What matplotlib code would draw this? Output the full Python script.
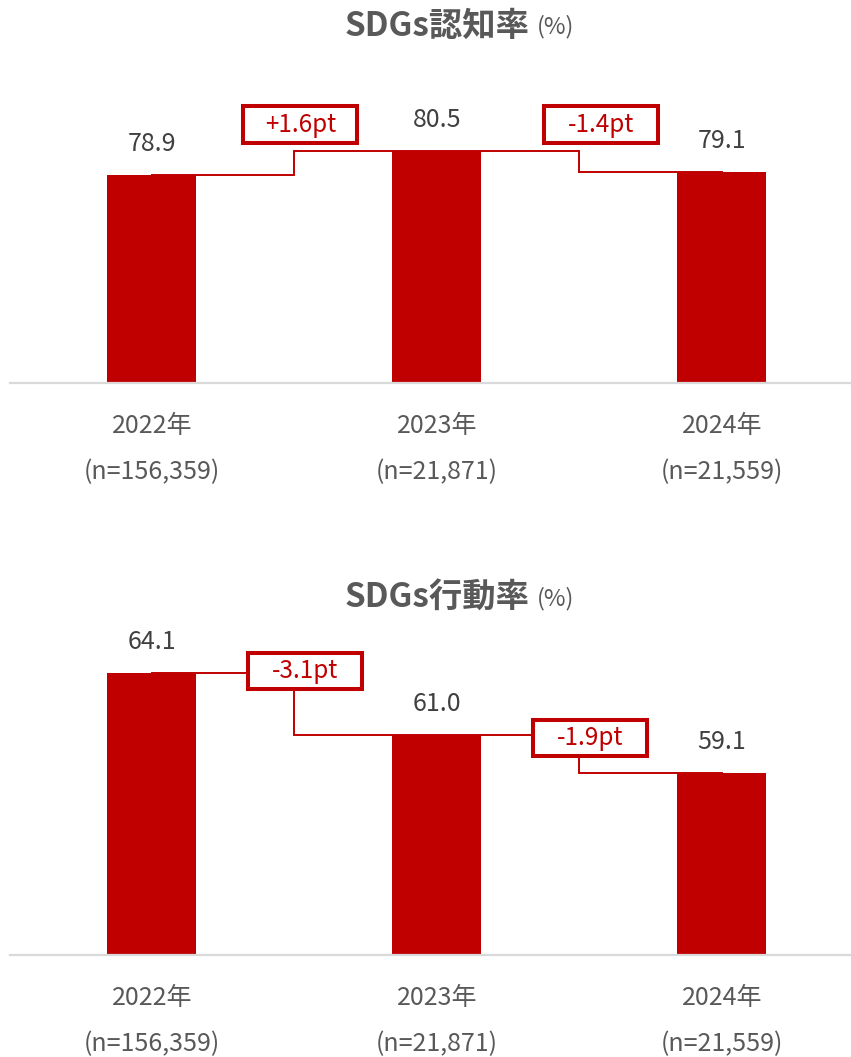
import matplotlib
matplotlib.use("Agg")
import matplotlib.pyplot as plt
from matplotlib.patches import Rectangle

plt.rcParams['font.family'] = ['Noto Sans CJK JP', 'DejaVu Sans']

# data
years = ["2022年", "2023年", "2024年"]
samples = ["(n=156,359)", "(n=21,871)", "(n=21,559)"]
awareness = [78.9, 80.5, 79.1]
action = [64.1, 61.0, 59.1]
titles = ["SDGs認知率", "SDGs行動率"]

RED = "#C00000"
GRAY = "#595959"
DARK = "#404040"

W, H = 851, 1057
fig = plt.figure(figsize=(W / 100, H / 100), dpi=100)


def px_axes(left, top, right, bottom):
    # axes rectangle from pixel edges (origin top-left)
    return fig.add_axes([left / W, 1 - bottom / H, (right - left) / W, (bottom - top) / H])


def panel(ax, values, ylim, title, title_y, box_dy):
    x = list(range(len(values)))
    ax.bar(x, values, width=0.312, color=RED, zorder=2)
    ax.set_xlim(-0.498, 2.453)
    ax.set_ylim(*ylim)
    for s in ["top", "left", "right"]:
        ax.spines[s].set_visible(False)
    ax.spines["bottom"].set_color("#D9D9D9")
    ax.spines["bottom"].set_linewidth(1.6)
    ax.set_xticks([])
    ax.set_yticks([])
    ax.patch.set_alpha(0)

    # value labels
    for xi, v in zip(x, values):
        ax.annotate(f"{v:.1f}", (xi, v), xytext=(0, 22), textcoords="offset points",
                    ha="center", va="center", fontsize=18, color=DARK)

    # category labels
    for xi, yr, n in zip(x, years, samples):
        ax.annotate(yr, (xi, 0), xycoords=("data", "axes fraction"), xytext=(0, -31),
                    textcoords="offset points", ha="center", va="center",
                    fontsize=18, color=GRAY)
        ax.annotate(n, (xi, 0), xycoords=("data", "axes fraction"), xytext=(0, -64),
                    textcoords="offset points", ha="center", va="center",
                    fontsize=18, color=GRAY)

    # step connectors and difference boxes
    bb = ax.get_position()
    ux = bb.width * W / (ax.get_xlim()[1] - ax.get_xlim()[0])
    uy = bb.height * H / (ylim[1] - ylim[0])
    bw, bh = 114 / ux, 36 / uy
    for i in range(len(values) - 1):
        a, b = values[i], values[i + 1]
        mid = i + 0.5
        ax.plot([i, mid, mid, i + 1], [a, a, b, b], color=RED, lw=1.4, zorder=3,
                solid_joinstyle="miter", clip_on=False)
        cx = mid + box_dy[i][0] / ux
        cy = max(a, b) + box_dy[i][1] / uy
        ax.add_patch(Rectangle((cx - bw / 2, cy - bh / 2), bw, bh, facecolor="white",
                               edgecolor=RED, lw=2.9, zorder=4, joinstyle="miter",
                               clip_on=False))
        d = round(b - a, 1)
        ax.text(cx, cy, f"{d:+.1f}pt", ha="center", va="center", fontsize=17.5,
                color=RED, zorder=5, clip_on=False)

    # title
    fig.text(530 / W, 1 - title_y / H, title, ha="right", va="center",
             fontsize=24, fontweight="bold", color=GRAY)
    fig.text(537 / W, 1 - (title_y + 1) / H, "(%)", ha="left", va="center",
             fontsize=17, color=GRAY)


ax1 = px_axes(10, 83, 851, 383)
panel(ax1, awareness, (65, 85), titles[0], 26, [(6, 26), (22, 26)])

ax2 = px_axes(10, 655, 851, 955)
panel(ax2, action, (50, 65), titles[1], 598, [(11, 2), (11, -3)])

fig.savefig("out.png", dpi=100)
